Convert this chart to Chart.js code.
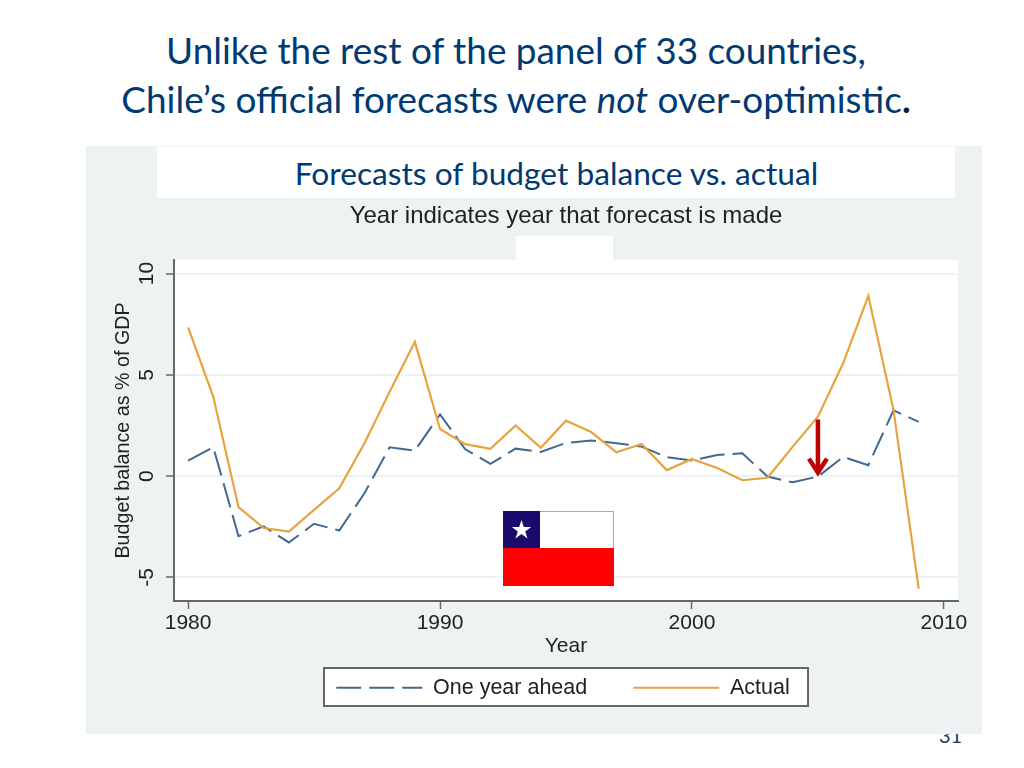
<!DOCTYPE html>
<html>
<head>
<meta charset="utf-8">
<title>Chile budget balance forecasts</title>
<script src="https://cdn.jsdelivr.net/npm/chart.js@4/dist/chart.umd.min.js"></script>
<style>
  html, body { margin: 0; padding: 0; background: #fff; overflow: hidden; }
  body { position: relative; width: 1024px; height: 768px; font-family: Lato, sans-serif; color: #003a70; }
  .abs { position: absolute; }
  .line { left: 0; width: 1032px; text-align: center; font-size: 36.9px; line-height: 42px; white-space: nowrap; }
  #num { left: 939px; top: 723px; font-size: 20px; line-height: 24px; color: #17375e; }
  #panel { left: 86px; top: 146px; width: 896px; height: 588px; background: #edf3f3; }
  #box1 { left: 157px; top: 147px; width: 798px; height: 51px; background: #fff; }
  #box2 { left: 516px; top: 236px; width: 97px; height: 25px; background: #fff; }
  #sub { left: 0; width: 1113px; top: 154px; text-align: center; font-size: 31.7px; line-height: 38px; white-space: nowrap; }
  canvas { position: absolute; left: 0; top: 0; }
  #flag { left: 503px; top: 511px; }
</style>
</head>
<body>
<div class="abs line" style="top:29px">Unlike the rest of the panel of 33 countries,</div>
<div class="abs line" style="top:78px">Chile’s official forecasts were <i>not</i> over-optimistic<b style="color:#0b1f33">.</b></div>
<div class="abs" id="num">31</div>
<div class="abs" id="panel"></div>
<div class="abs" id="box1"></div>
<div class="abs" id="box2"></div>
<div class="abs" id="sub">Forecasts of budget balance vs. actual</div>
<canvas id="chart" width="1024" height="768"></canvas>
<svg class="abs" id="flag" width="111" height="75" viewBox="0 0 111 75">
  <rect x="0.5" y="0.5" width="110" height="37" fill="#fff" stroke="#aaa"/>
  <rect x="0" y="0" width="37" height="37" fill="#1c0a6e"/>
  <rect x="0" y="37" width="111" height="38" fill="#ff0000"/>
  <polygon fill="#fff" points="18.5,9 20.8,16 28.2,16 22.2,20.4 24.5,27.5 18.5,23.1 12.5,27.5 14.8,20.4 8.8,16 16.2,16"/>
</svg>
<script>
const ctx = document.getElementById('chart');

const years = [1980, 1981, 1982, 1983, 1984, 1985, 1986, 1987, 1988, 1989,
    1990, 1991, 1992, 1993, 1994, 1995, 1996, 1997, 1998, 1999,
    2000, 2001, 2002, 2003, 2004, 2005, 2006, 2007, 2008, 2009];
const oneYearAhead = [0.77, 1.43, -2.96, -2.48, -3.27, -2.35, -2.68, -0.84, 1.43, 1.26,
    3.05, 1.33, 0.61, 1.36, 1.2, 1.64, 1.76, 1.63, 1.46, 0.94,
    0.77, 1.05, 1.13, -0.02, -0.3, -0.02, 0.95, 0.54, 3.25, 2.68];
const actual = [7.34, 3.92, -1.53, -2.56, -2.73, -1.66, -0.6, 1.63, 4.17, 6.63,
    2.33, 1.58, 1.35, 2.5, 1.4, 2.74, 2.18, 1.18, 1.59, 0.3,
    0.85, 0.4, -0.2, -0.08, 1.46, 2.94, 5.57, 8.9, 3.27, -5.55];
const xTicks = [1980, 1990, 2000, 2010];
const yTicks = [-5, 0, 5, 10];
const arrowYear = 2005;

const font = 'Liberation Sans, Arial, sans-serif';
const axisColor = '#666';
const textColor = '#222';

// fondo blanco del grafico y marco de la leyenda
const fondo = {
    id: 'fondo',
    afterLayout(chart) {
        chart.legend.left += 34;
        chart.legend.right += 34;
        chart.legend.top = 631;
    },
    beforeDraw(chart) {
        const c = chart.ctx, a = chart.chartArea;
        c.save();
        c.fillStyle = '#fff';
        c.fillRect(a.left, a.top, a.width, a.height);
        c.fillRect(324, 668, 484, 38);
        c.strokeStyle = axisColor;
        c.lineWidth = 2;
        c.strokeRect(324, 668, 484, 38);
        c.restore();
    }
};

// flecha roja entre el valor efectivo y el pronostico
const flecha = {
    id: 'flecha',
    afterDatasetsDraw(chart) {
        const c = chart.ctx;
        const i = years.indexOf(arrowYear);
        const x = chart.scales.x.getPixelForValue(arrowYear);
        const y1 = chart.scales.y.getPixelForValue(actual[i]) + 3;
        const y2 = chart.scales.y.getPixelForValue(oneYearAhead[i]) - 4;
        c.save();
        c.strokeStyle = '#c00000';
        c.lineWidth = 4.5;
        c.beginPath();
        c.moveTo(x, y1);
        c.lineTo(x, y2);
        c.moveTo(x - 9, y2 - 14);
        c.lineTo(x, y2);
        c.lineTo(x + 9, y2 - 14);
        c.stroke();
        c.restore();
    }
};

new Chart(ctx, {
    type: 'line',
    data: {
        datasets: [{
            label: 'One year ahead',
            data: years.map((y, i) => ({ x: y, y: oneYearAhead[i] })),
            borderColor: '#41698f',
            backgroundColor: '#41698f',
            borderWidth: 2,
            borderDash: [25, 8],
            pointRadius: 0,
            tension: 0,
            order: 2
        }, {
            label: 'Actual',
            data: years.map((y, i) => ({ x: y, y: actual[i] })),
            borderColor: '#e8a33f',
            backgroundColor: '#e8a33f',
            borderWidth: 2.2,
            pointRadius: 0,
            tension: 0,
            order: 1
        }]
    },
    plugins: [fondo, flecha],
    options: {
        responsive: false,
        animation: false,
        layout: { padding: { top: 204, left: 100, right: 66, bottom: 0 } },
        plugins: {
            title: {
                display: true,
                fullSize: false,
                text: 'Year indicates year that forecast is made',
                color: textColor,
                font: { family: font, size: 24, weight: 'normal', lineHeight: '25px' },
                padding: { top: 0, bottom: 31 }
            },
            legend: {
                position: 'bottom',
                labels: {
                    usePointStyle: true,
                    pointStyle: 'line',
                    pointStyleWidth: 86,
                    padding: 46,
                    color: textColor,
                    font: { family: font, size: 21.5 },
                    sort: (a, b) => a.datasetIndex - b.datasetIndex,
                    // la raya de la leyenda sale del estilo del punto, se copia la de la serie
                    generateLabels(chart) {
                        const items = Chart.defaults.plugins.legend.labels.generateLabels(chart);
                        items.forEach(item => {
                            const ds = chart.data.datasets[item.datasetIndex];
                            item.lineDash = ds.borderDash || [];
                            item.lineWidth = ds.borderWidth;
                            item.strokeStyle = ds.borderColor;
                        });
                        return items;
                    }
                }
            },
            tooltip: { enabled: false }
        },
        scales: {
            x: {
                type: 'linear',
                min: 1979.44,
                max: 2010.56,
                afterBuildTicks: s => { s.ticks = xTicks.map(v => ({ value: v })); },
                afterFit: s => { s.height = 768 - 601 - s.chart.legend.height; },
                border: { color: axisColor, width: 2 },
                grid: { drawOnChartArea: false, tickLength: 8, tickColor: axisColor, tickWidth: 1.5 },
                ticks: {
                    color: textColor,
                    padding: 2,
                    maxRotation: 0,
                    font: { family: font, size: 21 },
                    callback: v => String(v)
                },
                title: {
                    display: true,
                    text: 'Year',
                    color: textColor,
                    font: { family: font, size: 21, lineHeight: '25px' },
                    padding: { top: 0, bottom: 32 }
                }
            },
            y: {
                min: -6.16,
                max: 10.67,
                afterBuildTicks: s => { s.ticks = yTicks.map(v => ({ value: v })); },
                afterFit: s => { s.width = 74; },
                border: { color: axisColor, width: 2 },
                grid: { color: '#eef2f2', lineWidth: 2, tickLength: 8, tickColor: axisColor, tickWidth: 1.5 },
                ticks: {
                    color: textColor,
                    padding: 7,
                    minRotation: 90,
                    maxRotation: 90,
                    crossAlign: 'center',
                    font: { family: font, size: 21 }
                },
                title: {
                    display: true,
                    text: 'Budget balance as % of GDP',
                    color: textColor,
                    font: { family: font, size: 19.7, lineHeight: '25px' },
                    padding: { top: 11, bottom: 0 }
                }
            }
        }
    }
});
</script>
</body>
</html>
